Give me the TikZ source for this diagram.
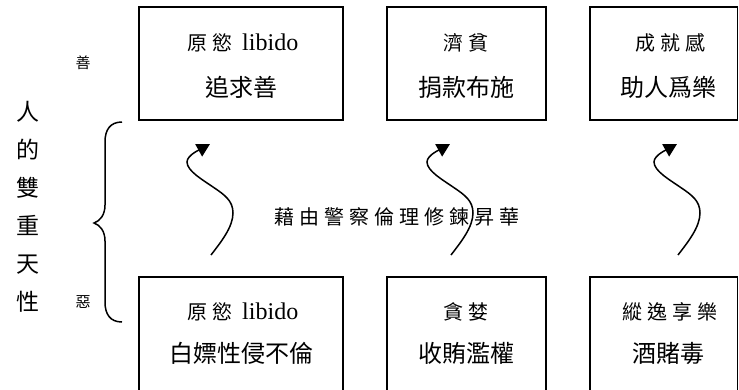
\documentclass[tikz,border=0pt]{standalone}
\usepackage{fontspec}
\setmainfont{Liberation Serif}
\newfontfamily\cjk{Noto Sans CJK TC}
\newfontfamily\cjksp[LetterSpace=25]{Noto Sans CJK TC}
\newfontfamily\cjkmid[LetterSpace=25]{Noto Sans CJK TC}
\usetikzlibrary{arrows.meta}
\begin{document}
\begin{tikzpicture}[x=1pt,y=-1pt,
  box/.style={draw,line width=1.3pt,minimum height=113pt,inner sep=0pt},
  lowbox/.style={draw,line width=1.3pt,minimum height=140pt,inner sep=0pt},
  small/.style={font=\cjksp\fontsize{20}{20}\selectfont,inner sep=0pt},
  big/.style={font=\cjk\fontsize{24}{24}\selectfont,inner sep=0pt},
  tiny/.style={font=\cjk\fontsize{15}{15}\selectfont,inner sep=0pt},
  wavy/.style={line width=1.5pt,-{Triangle[length=13pt,width=14pt]}},
  bracestyle/.style={line width=1.5pt}
]
\clip (0,0) rectangle (739,389);
\fill[white] (0,0) rectangle (739,389);

% top boxes
\node[box,minimum width=204pt] (t1) at (241,63.5) {};
\node[box,minimum width=159pt] (t2) at (466.5,63.5) {};
\node[box,minimum width=147.5pt] (t3) at (663.75,63.5) {};
% bottom boxes
\node[lowbox,minimum width=204pt] (b1) at (241,347) {};
\node[lowbox,minimum width=159pt] (b2) at (466.5,347) {};
\node[lowbox,minimum width=147.5pt] (b3) at (663.75,347) {};

% top box texts
\node[small] (t1a) at (243,43) {原慾 {\rmfamily\fontsize{24}{24}\selectfont libido}};
\node[big]   (t1b) at (241,87) {追求善};
\node[small] (t2a) at (466,43) {濟貧};
\node[big]   (t2b) at (466,87) {捐款布施};
\node[small] (t3a) at (670,43) {成就感};
\node[big]   (t3b) at (668,87) {助人爲樂};
% bottom box texts
\node[small] (b1a) at (243,312) {原慾 {\rmfamily\fontsize{24}{24}\selectfont libido}};
\node[big]   (b1b) at (241,353) {白嫖性侵不倫};
\node[small] (b2a) at (466,312) {貪婪};
\node[big]   (b2b) at (466,353) {收賄濫權};
\node[small] (b3a) at (670,312) {縱逸享樂};
\node[big]   (b3b) at (668,353) {酒賭毒};

% left side
\node[align=center,inner sep=0pt,font=\cjk\fontsize{23}{38}\selectfont] (side) at (28,206.5) {人\\的\\雙\\重\\天\\性};
\node[tiny] (good) at (83,63) {善};
\node[tiny] (evil) at (83,302) {惡};

% brace
\draw[bracestyle] (122,122) .. controls (110,122) and (105,130) .. (105,142)
  -- (105,205) .. controls (105,215) and (100,221) .. (94,223)
  .. controls (100,225) and (105,231) .. (105,241)
  -- (105,302) .. controls (105,314) and (110,322) .. (122,322);

% middle text
\node[inner sep=0pt,font=\cjkmid\fontsize{20}{20}\selectfont] (mid) at (397,217) {藉由警察倫理修鍊昇華};

% wavy arrows
\coordinate (a1) at (211,255);
\coordinate (a2) at (451,255);
\coordinate (a3) at (678,255);
\foreach \a in {a1,a2,a3}{
  \draw[wavy,shift={(\a)}] (0,0) .. controls (10,-13) and (22,-28) .. (22,-42)
    .. controls (22,-54) and (14,-60) .. (2,-68)
    .. controls (-8,-75) and (-24,-84) .. (-24,-93)
    .. controls (-24,-100) and (-10,-106) .. (-1,-111);
}
\end{tikzpicture}
\end{document}
